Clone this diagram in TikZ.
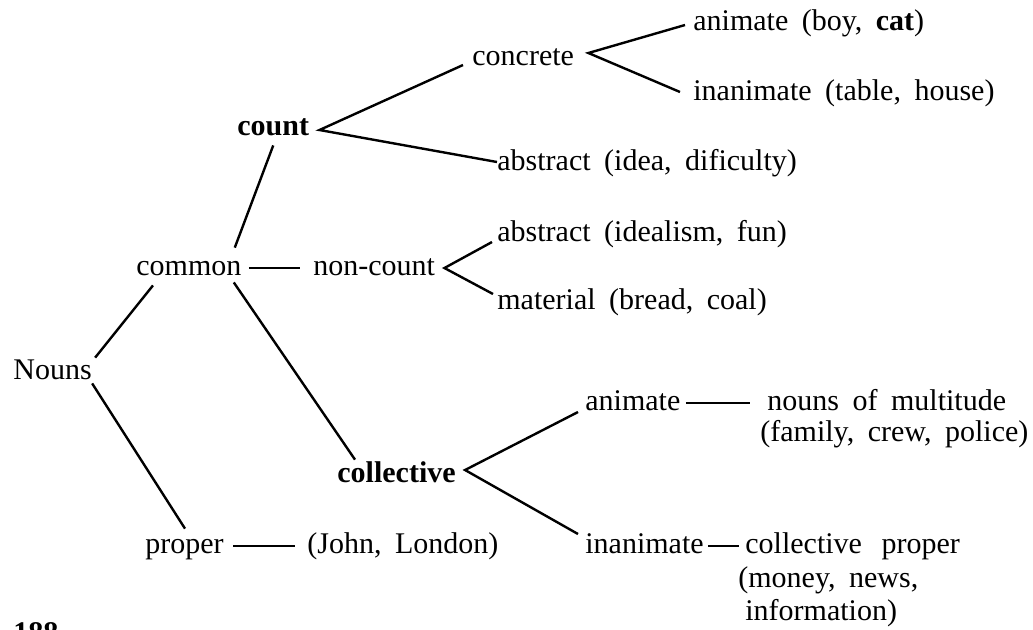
\documentclass[tikz,border=0pt]{standalone}
\usepackage{fontspec}
\setmainfont{Liberation Serif}[WordSpace=1.8]
\usepackage{tikz}

\begin{document}
\begin{tikzpicture}[x=0.5pt,y=-0.5pt,
    word/.style={anchor=west,inner sep=0pt,text height=10pt,text depth=3pt,
        font=\fontsize{15}{18}\selectfont},
    head/.style={word,font=\fontsize{15}{18}\selectfont\bfseries},
    branch/.style={line width=1.2pt}]
    % Frame
    \useasboundingbox (0,0) rectangle (1033,629);

    % Words
    \node[word] (nouns) at (13,372) {Nouns};
    \node[word] (common) at (136,268) {common};
    \node[word] (proper) at (145,546) {proper};
    \node[word] (john) at (307,546) {(John, London)};
    \node[head] (count) at (237,128) {count};
    \node[word] (noncount) at (313,268) {non-count};
    \node[head] (collective) at (337,475) {collective};
    \node[word] (concrete) at (472,58) {concrete};
    \node[word] (abstrA) at (497,163) {abstract (idea, dificulty)};
    \node[word] (abstrB) at (497,234) {abstract (idealism, fun)};
    \node[word] (material) at (497,302) {material (bread, coal)};
    \node[word] (animA) at (693,23) {animate (boy, \textbf{cat})};
    \node[word] (inanA) at (693,93) {inanimate (table, house)};
    \node[word] (animC) at (585,403) {animate};
    \node[word] (multA) at (767,403) {nouns of multitude};
    \node[word] (multB) at (760,434) {(family, crew, police)};
    \node[word] (inanC) at (585,546) {inanimate};
    \node[word] (propA) at (745,546) {collective\hspace{.2em} proper};
    \node[word] (propB) at (738,580) {(money, news,};
    \node[word] (propC) at (745,613) {information)};
    \node[head] (page) at (13,635) {188};

    % Fork points
    \coordinate (countfork) at ([shift={(10,2)}]count.east);
    \coordinate (concretefork) at ([shift={(14,-5)}]concrete.east);
    \coordinate (noncountfork) at ([shift={(9,0)}]noncount.east);
    \coordinate (collectivefork) at ([shift={(9,-5)}]collective.east);

    % Branches
    \draw[branch] ([shift={(3,-1)}]nouns.north east) -- ([shift={(17,4)}]common.south west);
    \draw[branch] ([shift={(0,-2)}]nouns.south east) -- ([shift={(40,-4)}]proper.north west);
    \draw[branch] ([shift={(-7,-7)}]common.north east) -- ([shift={(0,4)}]count.south);
    \draw[branch] ([shift={(7,0)}]common.east) -- ([shift={(-13,0)}]noncount.west);
    \draw[branch] ([shift={(-8,1)}]common.south east) -- ([shift={(18,-2)}]collective.north west);
    \draw[branch] ([shift={(9,0)}]proper.east) -- ([shift={(-12,0)}]john.west);
    \draw[branch] ([shift={(-9,7)}]concrete.west) -- (countfork) -- ([shift={(0,-1)}]abstrA.west);
    \draw[branch] ([shift={(-8,2)}]animA.west) -- (concretefork) -- ([shift={(-13,-1)}]inanA.west);
    \draw[branch] ([shift={(-5,8)}]abstrB.west) -- (noncountfork) -- ([shift={(-4,-8)}]material.west);
    \draw[branch] ([shift={(-7,9)}]animC.west) -- (collectivefork) -- ([shift={(-7,-12)}]inanC.west);
    \draw[branch] ([shift={(5,0)}]animC.east) -- ([shift={(-17,0)}]multA.west);
    \draw[branch] ([shift={(4,0)}]inanC.east) -- ([shift={(-6,0)}]propA.west);
\end{tikzpicture}
\end{document}
